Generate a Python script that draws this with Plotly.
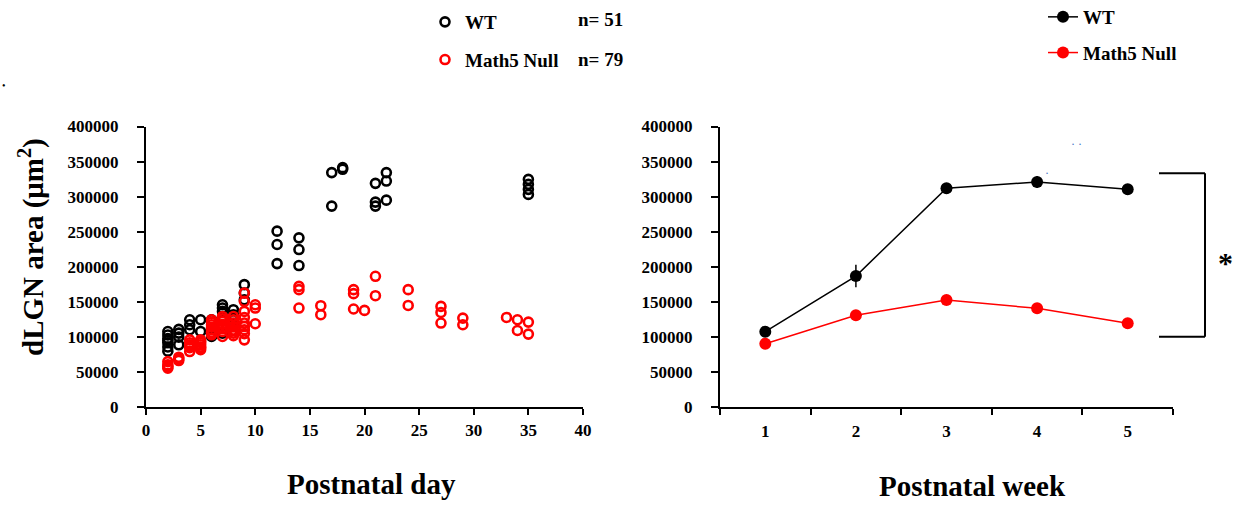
import plotly.graph_objects as go

W, H = 1246, 506

# ---------------- data: left panel (individual animals) ----------------
wt_day = [2, 2, 2, 2, 2, 2, 3, 3, 3, 4, 4, 4, 5, 5, 6, 6, 6, 7, 7, 7, 7,
          8, 8, 8, 9, 9, 9, 12, 12, 12, 14, 14, 14, 17, 17, 18, 18,
          21, 21, 21, 22, 22, 22, 35, 35, 35, 35, 2, 3, 7, 8]
wt_area = [108000, 103000, 98000, 92000, 86000, 80000, 111000, 105700, 89000,
           124700, 117600, 110500, 124700, 108000, 124700, 112000, 100900,
           146000, 141400, 136600, 105700, 139000, 131900, 124700,
           174700, 162900, 153300, 250900, 231900, 204700,
           241400, 224700, 201900, 334300, 286600, 341400, 339000,
           319000, 292300, 286600, 334300, 322300, 295100,
           324700, 317600, 310500, 303300, 95000, 100000, 128000, 118000]

null_day = [2, 2, 2, 3, 3, 4, 4, 4, 5, 5, 5, 6, 6, 6, 6, 7, 7, 7, 7, 7,
            8, 8, 8, 8, 9, 9, 9, 9, 9, 9, 10, 10, 10, 14, 14, 14, 16, 16,
            19, 19, 19, 20, 21, 21, 24, 24, 27, 27, 27, 29, 29, 33, 34, 34,
            35, 35, 2, 4, 4, 5, 5, 6, 6, 7, 7, 8, 8, 9, 9, 4, 5, 6, 7, 8, 9,
            3, 5, 6, 8]
null_area = [65100, 60400, 55700, 71400, 66600, 96100, 89000, 79400,
             96100, 89000, 82000, 124700, 117600, 110500, 103300,
             129400, 122300, 115100, 108000, 100900, 129400, 124700, 115100, 105700,
             162900, 150900, 136600, 120000, 110500, 96100, 146100, 141400, 119000,
             172300, 167600, 141400, 144700, 131900, 167600, 161900, 140000, 138000,
             186600, 159000, 167600, 145100, 143700, 135100, 120000, 127100, 117600,
             128000, 124700, 109400, 121400, 104300, 58000, 92000, 85000, 92000, 85000,
             121000, 107000, 118000, 112000, 120000, 110000, 128000, 115000,
             87000, 94000, 114000, 126000, 102000, 105000, 69000, 86000, 106000, 109000]

wt_n = "n= 51"
null_n = "n= 79"

# ---------------- data: right panel (weekly means) ----------------
weeks = ["1", "2", "3", "4", "5"]
wt_mean = [107700, 187000, 312000, 321000, 310500]
wt_err = [4000, 16000, 7000, 8500, 4000]
null_mean = [90600, 131000, 152800, 141000, 119700]
null_err = [3000, 3000, 3500, 3500, 3000]

y_ticks = [0, 50000, 100000, 150000, 200000, 250000, 300000, 350000, 400000]
x_ticks_day = [0, 5, 10, 15, 20, 25, 30, 35, 40]

FONT = "Liberation Serif"


def px(x):
    return x / W


def py(y):
    return 1 - y / H


fig = go.Figure()

# left panel scatter
fig.add_trace(go.Scatter(
    x=wt_day, y=wt_area, mode="markers", name="WT",
    marker=dict(symbol="circle-open", size=9, color="black", line=dict(width=2.6)),
    xaxis="x", yaxis="y", legend="legend", legendgroup="a"))
fig.add_trace(go.Scatter(
    x=null_day, y=null_area, mode="markers", name="Math5 Null",
    marker=dict(symbol="circle-open", size=9, color="#ff0000", line=dict(width=2.6)),
    xaxis="x", yaxis="y", legend="legend", legendgroup="b"))

# right panel error bars (no legend)
fig.add_trace(go.Scatter(
    x=weeks, y=wt_mean, mode="markers", showlegend=False,
    marker=dict(size=1, color="black", opacity=0),
    error_y=dict(type="data", array=wt_err, color="black", thickness=1.5, width=0),
    xaxis="x2", yaxis="y2"))
fig.add_trace(go.Scatter(
    x=weeks, y=null_mean, mode="markers", showlegend=False,
    marker=dict(size=1, color="red", opacity=0),
    error_y=dict(type="data", array=null_err, color="red", thickness=1.5, width=0),
    xaxis="x2", yaxis="y2"))

# right panel means
fig.add_trace(go.Scatter(
    x=weeks, y=wt_mean, mode="lines+markers", name="WT",
    line=dict(color="black", width=1.5),
    marker=dict(size=12, color="black"),
    xaxis="x2", yaxis="y2", legend="legend2", legendgroup="c"))
fig.add_trace(go.Scatter(
    x=weeks, y=null_mean, mode="lines+markers", name="Math5 Null",
    line=dict(color="#ff0000", width=1.5),
    marker=dict(size=12, color="#ff0000"),
    xaxis="x2", yaxis="y2", legend="legend2", legendgroup="d"))

tickfont = dict(family=FONT, size=17, color="black", weight="bold")
common_y = dict(range=[0, 400000], tickvals=y_ticks, ticktext=[str(v) for v in y_ticks],
                showgrid=False, zeroline=False, showline=True, linecolor="black",
                linewidth=2, ticks="outside", ticklen=7, tickwidth=1.5, tickcolor="black",
                tickfont=tickfont, ticklabelstandoff=15, automargin=False,
                domain=[py(407.3), py(126.5)])

fig.update_layout(
    width=W, height=H,
    margin=dict(l=0, r=0, t=0, b=0, autoexpand=False),
    paper_bgcolor="white", plot_bgcolor="white",
    xaxis=dict(domain=[px(146), px(583)], range=[0, 40], tickvals=x_ticks_day,
               showgrid=False, zeroline=False, showline=True, linecolor="black",
               linewidth=2, ticks="outside", ticklen=6, tickwidth=1.5, tickcolor="black",
               tickfont=tickfont, anchor="y", ticklabelstandoff=0, automargin=False),
    yaxis=dict(anchor="x", **common_y),
    xaxis2=dict(domain=[px(720), px(1173)], type="category", categoryorder="array",
                categoryarray=weeks, range=[-0.5, 4.5], tickson="boundaries",
                showgrid=False, zeroline=False, showline=True, linecolor="black",
                linewidth=2, ticks="outside", ticklen=6, tickwidth=1.5, tickcolor="black",
                tickfont=tickfont, anchor="y2", ticklabelstandoff=7, automargin=False),
    yaxis2=dict(anchor="x2", **common_y),
    legend=dict(x=px(425), y=py(3), xanchor="left", yanchor="top",
                font=dict(family=FONT, size=19, color="black", weight="bold"),
                tracegroupgap=10, bgcolor="rgba(0,0,0,0)", itemsizing="trace"),
    legend2=dict(x=px(1043), y=py(-2), xanchor="left", yanchor="top",
                 font=dict(family=FONT, size=19, color="black", weight="bold"),
                 tracegroupgap=8, bgcolor="rgba(0,0,0,0)"),
    showlegend=True,
)

annotations = [
    dict(text=wt_n, x=px(576), y=py(20), xref="paper", yref="paper",
         xanchor="left", yanchor="middle", showarrow=False,
         font=dict(family=FONT, size=19, color="black", weight="bold")),
    dict(text=null_n, x=px(576), y=py(60), xref="paper", yref="paper",
         xanchor="left", yanchor="middle", showarrow=False,
         font=dict(family=FONT, size=19, color="black", weight="bold")),
    dict(text="dLGN area (μm<sup>2</sup>)", x=px(31), y=py(247), xref="paper", yref="paper",
         xanchor="center", yanchor="middle", textangle=-90, showarrow=False,
         font=dict(family=FONT, size=29, color="black", weight="bold")),
    dict(text="Postnatal day", x=px(371), y=py(484), xref="paper", yref="paper",
         xanchor="center", yanchor="middle", showarrow=False,
         font=dict(family=FONT, size=29, color="black", weight="bold")),
    dict(text="Postnatal week", x=px(972), y=py(486), xref="paper", yref="paper",
         xanchor="center", yanchor="middle", showarrow=False,
         font=dict(family=FONT, size=29, color="black", weight="bold")),
    dict(text="*", x=px(1225), y=py(262), xref="paper", yref="paper",
         xanchor="center", yanchor="middle", showarrow=False,
         font=dict(family=FONT, size=30, color="black", weight="bold")),
    dict(text="•", x=px(0), y=py(85), xref="paper", yref="paper",
         xanchor="left", yanchor="middle", showarrow=False,
         font=dict(family=FONT, size=10, color="black")),
    dict(text="· ·", x=px(1076), y=py(144), xref="paper", yref="paper",
         xanchor="center", yanchor="middle", showarrow=False,
         font=dict(family=FONT, size=12, color="#4472c4")),
    dict(text="·", x=px(1047), y=py(173), xref="paper", yref="paper",
         xanchor="center", yanchor="middle", showarrow=False,
         font=dict(family=FONT, size=12, color="#4472c4")),
]
fig.update_layout(annotations=annotations)

# significance bracket
br_top, br_bot = 333300, 100500
x0b, x1b = px(1159), px(1205)
fig.add_shape(type="line", xref="paper", yref="y2", x0=x0b, x1=x1b, y0=br_top, y1=br_top,
              line=dict(color="black", width=2))
fig.add_shape(type="line", xref="paper", yref="y2", x0=x0b, x1=x1b, y0=br_bot, y1=br_bot,
              line=dict(color="black", width=2))
fig.add_shape(type="line", xref="paper", yref="y2", x0=x1b, x1=x1b, y0=br_bot, y1=br_top,
              line=dict(color="black", width=2))

fig.write_html("out.html",
               post_script="document.body.style.margin='0';document.body.style.overflow='hidden';")
